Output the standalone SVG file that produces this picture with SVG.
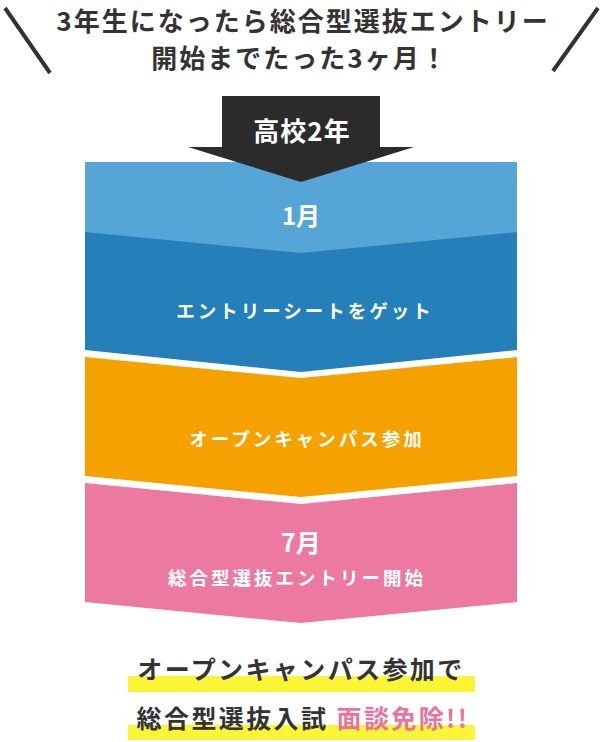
<svg xmlns="http://www.w3.org/2000/svg" width="604" height="742" viewBox="0 0 604 742">
<style>
.t{font-family:"Noto Sans CJK JP","Noto Sans",sans-serif;font-weight:700;text-anchor:middle;dominant-baseline:central}
.title{font-size:26px;fill:#333;letter-spacing:2px}
.w{fill:#fff}
.lbl{font-size:18.5px;letter-spacing:3px}
.mon{font-size:24px}
.hl{fill:#FAF535}
.concl{font-size:25px;fill:#333;letter-spacing:2.4px}
.slash{stroke:#333;stroke-width:4;stroke-linecap:butt}
</style>
<rect width="604" height="742" fill="#fff"/>
<g id="title">
<line class="slash" x1="5" y1="8" x2="50" y2="73"/>
<line class="slash" x1="598" y1="8" x2="553" y2="71"/>
<text class="t title" x="303" y="19">3年生になったら総合型選抜エントリー</text>
<text class="t title" x="300" y="56">開始までたった3ヶ月！</text>
</g>
<g id="band-entry-sheet">
<polygon points="85,225 517,225 517,350 301,372 85,350" fill="#2580BA"/>
<text class="t w lbl" x="305" y="310">エントリーシートをゲット</text>
</g>
<g id="band-january">
<polygon points="85,162 517,162 517,232 301,253 85,232" fill="#55A5D6"/>
<text class="t w mon" x="301" y="214">1月</text>
</g>
<g id="year2-arrow">
<polygon points="222,96 380,96 380,147 414,147 301,182 188,147 222,147" fill="#2B2B2B"/>
<text class="t w" style="font-size:26px;letter-spacing:1px" x="302" y="129">高校2年</text>
</g>
<g id="band-open-campus">
<polygon points="85,357 301,378 517,357 517,476 301,497 85,476" fill="#F5A100"/>
<text class="t w lbl" x="307" y="438">オープンキャンパス参加</text>
</g>
<g id="band-july">
<polygon points="85,483 301,504 517,483 517,602 301,623 85,602" fill="#EC79A0"/>
<text class="t w" style="font-size:25px" x="301" y="541">7月</text>
<text class="t w lbl" x="297" y="577">総合型選抜エントリー開始</text>
</g>
<g id="conclusion">
<rect class="hl" x="128" y="676" width="347" height="16"/>
<rect class="hl" x="128" y="725" width="347" height="15"/>
<text class="t concl" x="301" y="668">オープンキャンパス参加で</text>
<text class="t concl" x="303" y="717">総合型選抜入試 <tspan fill="#E8739E">面談免除!!</tspan></text>
</g>
</svg>
